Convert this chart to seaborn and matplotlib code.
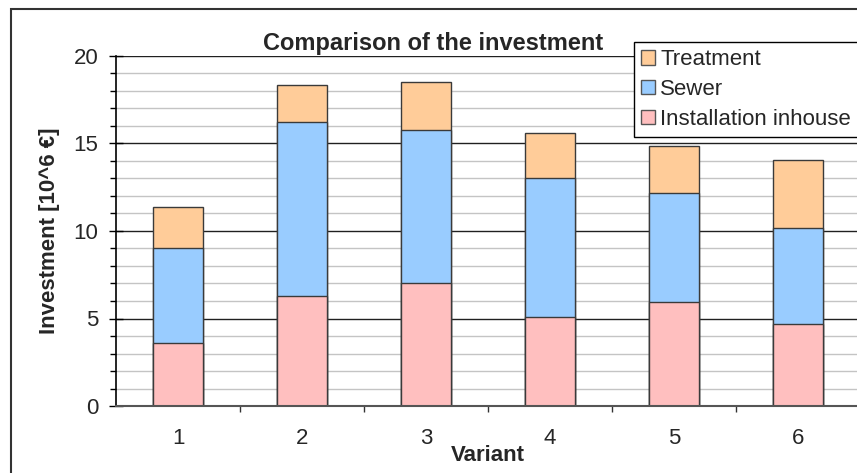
import matplotlib
matplotlib.use("Agg")
import matplotlib.pyplot as plt
import matplotlib.patches as mpatches
from matplotlib.ticker import MultipleLocator, FixedLocator
import seaborn as sns
import numpy as np

variants = ["1", "2", "3", "4", "5", "6"]
installation_inhouse = [3.6, 6.3, 7.05, 5.1, 5.92, 4.7]
sewer = [5.42, 9.95, 8.72, 7.92, 6.23, 5.45]
treatment = [2.33, 2.1, 2.75, 2.57, 2.72, 3.92]

title = "Comparison of the investment"
xlabel = "Variant"
ylabel = "Investment [10^6 €]"
labels = ["Treatment", "Sewer", "Installation inhouse"]
colors = {"Treatment": "#FFCC99", "Sewer": "#99CCFF", "Installation inhouse": "#FFBFBF"}

sns.set_style("white")
plt.rcParams["font.family"] = ["Liberation Sans", "DejaVu Sans"]

fig = plt.figure(figsize=(8.57, 4.73), dpi=100)
ax = fig.add_axes([116 / 857, 1 - 406 / 473, 744 / 857, 350 / 473])

inh = np.array(installation_inhouse)
sew_top = inh + np.array(sewer)
tot = sew_top + np.array(treatment)

edge = "#3a3a3a"
for vals, lab in [(tot, "Treatment"), (sew_top, "Sewer"), (inh, "Installation inhouse")]:
    sns.barplot(x=variants, y=vals, color=colors[lab], saturation=1, width=0.4,
                edgecolor=edge, linewidth=1.0, ax=ax)
if ax.get_legend() is not None:
    ax.get_legend().remove()

ax.set_xlim(-0.5, 5.5)
ax.set_ylim(0, 20)
ax.yaxis.set_major_locator(MultipleLocator(5))
ax.yaxis.set_minor_locator(MultipleLocator(1))
ax.xaxis.set_minor_locator(FixedLocator([0.5, 1.5, 2.5, 3.5, 4.5]))

ax.set_axisbelow(True)
ax.grid(which="minor", axis="y", color="#c4c4c4", linewidth=1.0)
ax.grid(which="major", axis="y", color="#202020", linewidth=1.0)
ax.grid(which="both", axis="x", visible=False)

for s in ["top", "right"]:
    ax.spines[s].set_visible(False)
ax.spines["left"].set_color("black")
ax.spines["left"].set_linewidth(1.2)
ax.spines["bottom"].set_color("#555555")
ax.spines["bottom"].set_linewidth(1.5)

ax.tick_params(axis="y", which="major", direction="inout", length=9.5, width=1.0,
               color="black", labelsize=16, pad=8, left=True)
ax.tick_params(axis="y", which="minor", direction="out", length=4.5, width=1.0,
               color="black", left=True)
ax.tick_params(axis="x", which="major", length=0, labelsize=16, pad=16)
ax.tick_params(axis="x", which="minor", direction="out", length=4.5, width=1.0,
               color="#333333", bottom=True)

ax.set_xlabel(xlabel, fontsize=16, fontweight="bold")
ax.set_ylabel(ylabel, fontsize=16, fontweight="bold")
ax.xaxis.set_label_coords(0.5, -0.112)
ax.yaxis.set_label_coords(-0.0753, 0.5)

fig.text(433 / 857, 1 - 50 / 473, title, ha="center", va="baseline",
         fontsize=17, fontweight="bold")

handles = [mpatches.Patch(facecolor=colors[l], edgecolor="#555555", linewidth=1.0, label=l)
           for l in labels]
leg = fig.legend(handles=handles, loc="upper left",
                 bbox_to_anchor=(634 / 857, 1 - 42 / 473), fontsize=16,
                 frameon=True, fancybox=False, shadow=False, framealpha=1,
                 edgecolor="black", handlelength=0.6, handleheight=0.6,
                 handletextpad=0.25, borderpad=0.33, labelspacing=0.4,
                 borderaxespad=0)
leg.get_frame().set_linewidth(1.0)

border = mpatches.Rectangle((11 / 857, -0.1), 2.0, (473 - 9) / 473 + 0.1,
                            transform=fig.transFigure, fill=False,
                            edgecolor="#333333", linewidth=1.5)
fig.add_artist(border)

fig.savefig("out.png", dpi=100)
